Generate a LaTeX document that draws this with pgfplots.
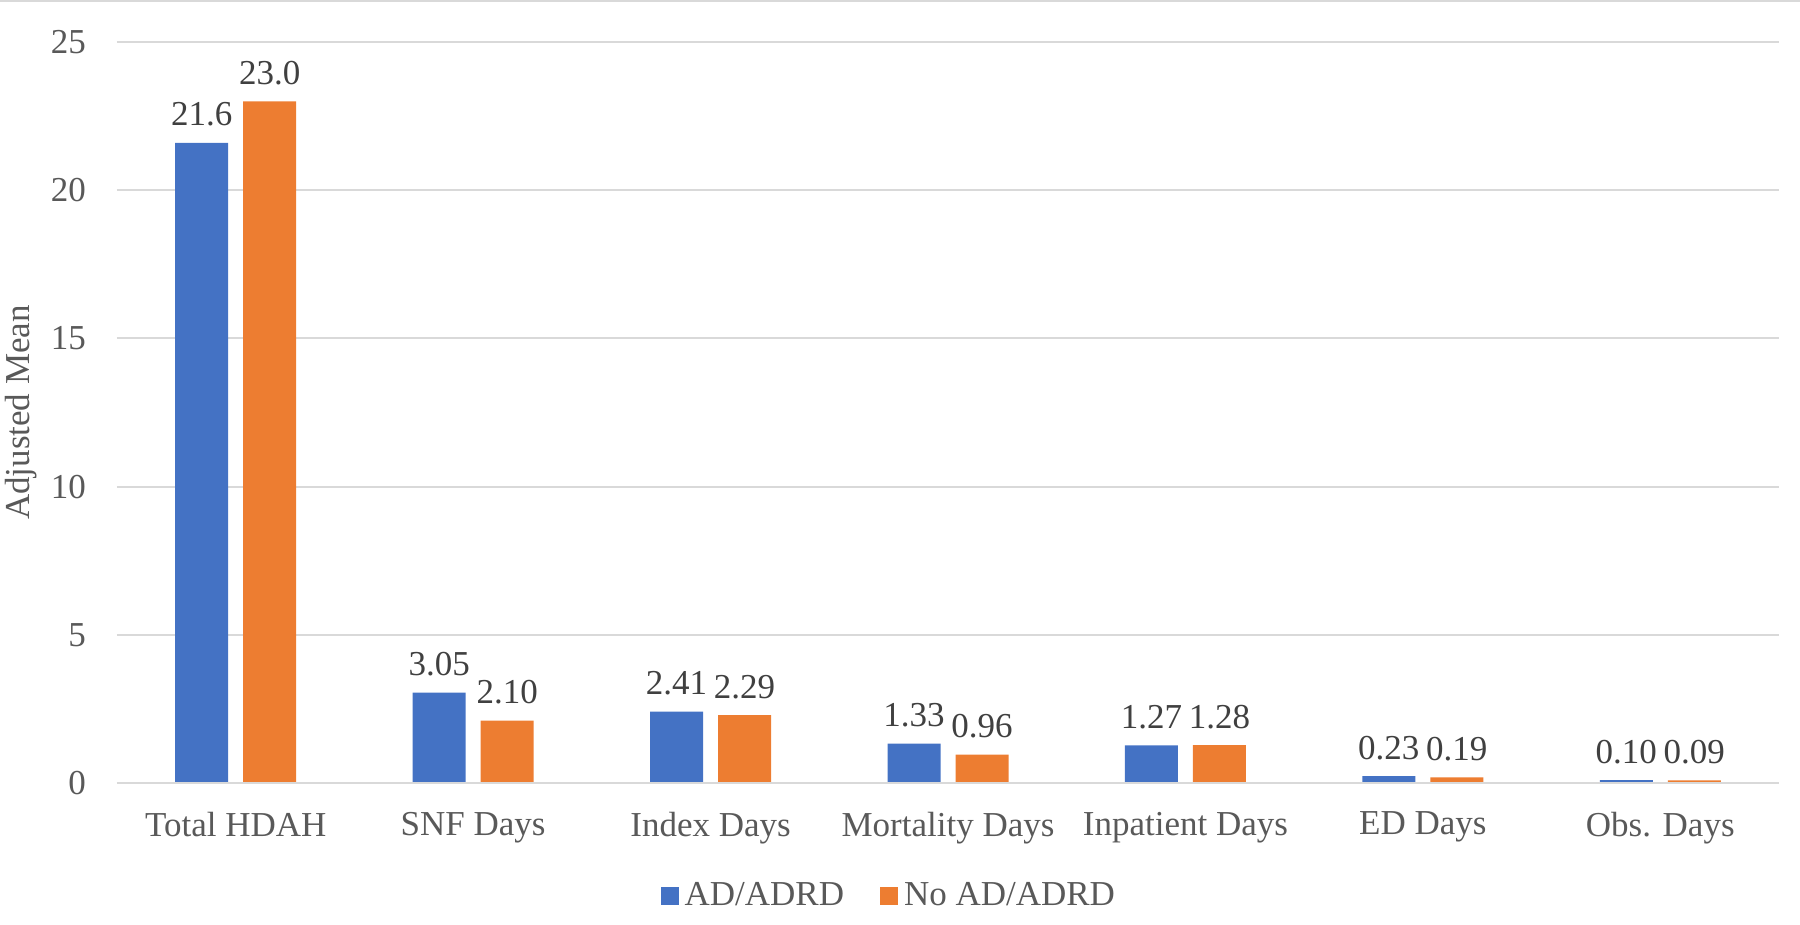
\documentclass[border=0pt]{standalone}
\usepackage{pgfplots}
\pgfplotsset{compat=1.18}
\usepackage{pgfplotstable}
\usepackage{fontspec}
\setmainfont{Liberation Serif}
\definecolor{xblue}{HTML}{4472C4}
\definecolor{xorange}{HTML}{ED7D31}
\definecolor{xgrid}{HTML}{D9D9D9}
\definecolor{xtext}{HTML}{595959}
\definecolor{xlab}{HTML}{404040}
\pgfplotstableread{
x y lab
0 21.6 21.6
1 3.05 3.05
2 2.41 2.41
3 1.33 1.33
4 1.27 1.27
5 0.23 0.23
6 0.10 0.10
}\adrd
\pgfplotstableread{
x y lab
0 23.0 23.0
1 2.10 2.10
2 2.29 2.29
3 0.96 0.96
4 1.28 1.28
5 0.19 0.19
6 0.09 0.09
}\noadrd
\begin{document}
\begin{tikzpicture}
\useasboundingbox (0,0) rectangle (900pt,462.5pt);
\draw[xgrid, line width=1.2pt] (0,462pt) -- (900pt,462pt);
\begin{axis}[
  at={(58.5pt,71pt)}, anchor=south west,
  scale only axis, width=831pt, height=370.5pt,
  xmin=-0.5, xmax=6.5, ymin=0, ymax=25,
  ytick={0,5,10,15,20,25},
  xtick={0,1,2,3,4,5,6},
  xticklabels={Total HDAH, SNF Days, Index Days, Mortality Days, Inpatient Days, ED Days, Obs. Days},
  axis line style={draw=none},
  major tick length=0pt,
  ymajorgrids, grid style={xgrid, line width=1pt},
  tick label style={font=\fontsize{17.5}{21}\selectfont, text=xtext},
  /pgf/number format/assume math mode=true,
  yticklabel style={xshift=-12pt},
  xticklabel style={yshift=-11pt},
  ylabel={Adjusted Mean},
  ylabel style={font=\fontsize{17.5}{21}\selectfont, text=xtext, at={(axis description cs:-0.058,0.5)}, anchor=center},
  ybar, bar width=26.5pt,
  nodes near coords, point meta=explicit symbolic,
  nodes near coords style={font=\fontsize{17.5}{21}\selectfont, text=xlab, inner sep=2pt, anchor=south, yshift=6pt},
  legend style={at={(0.465,-0.152)}, anchor=center, legend columns=2, draw=none, fill=none,
    font=\fontsize{17.5}{21}\selectfont, text=xtext, /tikz/every even column/.append style={column sep=16pt},
    /tikz/every odd column/.append style={column sep=1pt}},
  legend image code/.code={\fill[#1] (0pt,-4.5pt) rectangle (9pt,4.5pt);},
  clip=false,
]
\addplot[fill=xblue, draw=none, bar shift=-17pt] table[x=x, y=y, meta=lab] {\adrd};
\addplot[fill=xorange, draw=none, bar shift=17pt] table[x=x, y=y, meta=lab] {\noadrd};
\draw[xgrid, line width=1pt] (axis cs:-0.5,0) -- (axis cs:6.5,0);
\legend{AD/ADRD, No AD/ADRD}
\end{axis}
\end{tikzpicture}
\end{document}
